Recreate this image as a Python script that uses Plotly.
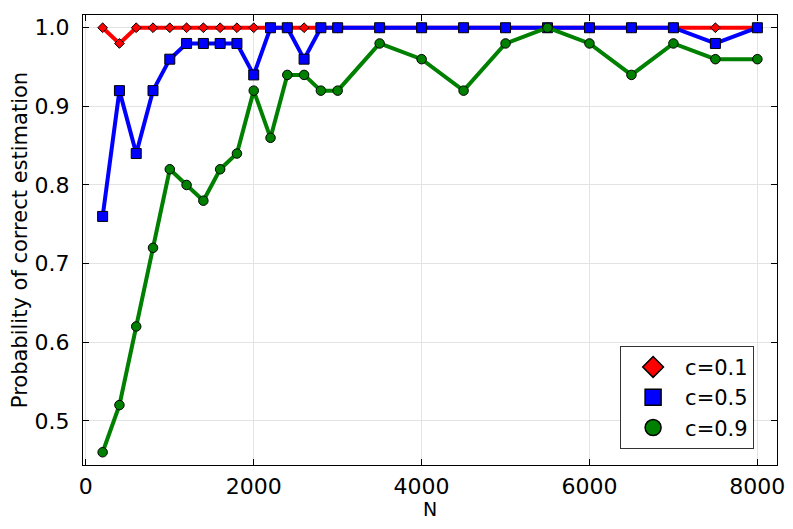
import plotly.graph_objects as go

N = [200, 400, 600, 800, 1000, 1200, 1400, 1600, 1800, 2000, 2200, 2400, 2600,
     2800, 3000, 3500, 4000, 4500, 5000, 5500, 6000, 6500, 7000, 7500, 8000]

p_c01 = [1.0, 0.98, 1.0, 1.0, 1.0, 1.0, 1.0, 1.0, 1.0, 1.0, 1.0, 1.0, 1.0,
         1.0, 1.0, 1.0, 1.0, 1.0, 1.0, 1.0, 1.0, 1.0, 1.0, 1.0, 1.0]
p_c05 = [0.76, 0.92, 0.84, 0.92, 0.96, 0.98, 0.98, 0.98, 0.98, 0.94, 1.0, 1.0, 0.96,
         1.0, 1.0, 1.0, 1.0, 1.0, 1.0, 1.0, 1.0, 1.0, 1.0, 0.98, 1.0]
p_c09 = [0.46, 0.52, 0.62, 0.72, 0.82, 0.80, 0.78, 0.82, 0.84, 0.92, 0.86, 0.94, 0.94,
         0.92, 0.92, 0.98, 0.96, 0.92, 0.98, 1.0, 0.98, 0.94, 0.98, 0.96, 0.96]

series_names = ["c=0.1", "c=0.5", "c=0.9"]
series_colors = ["#ff0000", "#0000ff", "#008000"]
series_symbols = ["diamond", "square", "circle"]
series_sizes = [7.5, 10, 9.5]

x_ticks = [0, 2000, 4000, 6000, 8000]
y_ticks = [0.5, 0.6, 0.7, 0.8, 0.9, 1.0]
x_title = "N"
y_title = "Probability of correct estimation"

FONT = "DejaVu Sans"

fig = go.Figure()
for name, ys, col, sym, sz in zip(series_names, [p_c01, p_c05, p_c09],
                                  series_colors, series_symbols, series_sizes):
    fig.add_trace(go.Scatter(x=N, y=ys, mode="lines", showlegend=False,
                             line=dict(color=col, width=4), hoverinfo="skip"))
    fig.add_trace(go.Scatter(x=N, y=ys, mode="markers", name=name, showlegend=False,
                             marker=dict(symbol=sym, size=sz, color=col,
                                         line=dict(color="black", width=1))))
# legend-only entries with larger symbols (no data drawn)
for name, col, sym in zip(series_names, series_colors, series_symbols):
    fig.add_trace(go.Scatter(x=[None], y=[None], mode="markers", name=name,
                             marker=dict(symbol=sym, size=16, color=col,
                                         line=dict(color="black", width=1.5))))

xmin, xmax = min(N), max(N)
xpad = 0.03 * (xmax - xmin)
allv = p_c01 + p_c05 + p_c09
ymin, ymax = min(allv), max(allv)
ypad = 0.03 * (ymax - ymin)

axis_common = dict(
    automargin=False,
    showline=True, linecolor="black", linewidth=1, mirror="allticks",
    ticks="inside", ticklen=6, tickwidth=1, tickcolor="black",
    showgrid=True, gridcolor="#e3e3e3", gridwidth=1, zeroline=False,
    tickfont=dict(family=FONT, size=22, color="black"),
)

# page body adds an 8px margin on the left/top; figure is sized accordingly
fig.update_layout(
    template="none",
    width=785, height=513,
    margin=dict(l=75, r=16, t=7, b=56, autoexpand=False),
    paper_bgcolor="white", plot_bgcolor="white",
    font=dict(family=FONT, color="black"),
    xaxis=dict(range=[xmin - xpad, xmax + xpad], tickvals=x_ticks,
               ticktext=[str(v) for v in x_ticks], ticklabelstandoff=2,
               **axis_common),
    yaxis=dict(range=[ymin - ypad, ymax + ypad], tickvals=y_ticks,
               ticktext=[f"{v:.1f}" for v in y_ticks], ticklabelstandoff=8,
               title=dict(text=y_title, font=dict(family=FONT, size=21), standoff=3),
               **axis_common),
    legend=dict(x=0.967, y=0.036, xanchor="right", yanchor="bottom",
                bgcolor="white", bordercolor="#333333", borderwidth=1,
                font=dict(family=FONT, size=21, color="black"),
                itemsizing="trace", itemwidth=54, tracegroupgap=0),
    showlegend=True,
    annotations=[dict(text=x_title, xref="paper", yref="paper", x=0.5, y=0,
                      xanchor="center", yanchor="middle", yshift=-44,
                      showarrow=False, borderpad=0,
                      font=dict(family=FONT, size=19, color="black"))],
)

fig.write_html("out.html")
